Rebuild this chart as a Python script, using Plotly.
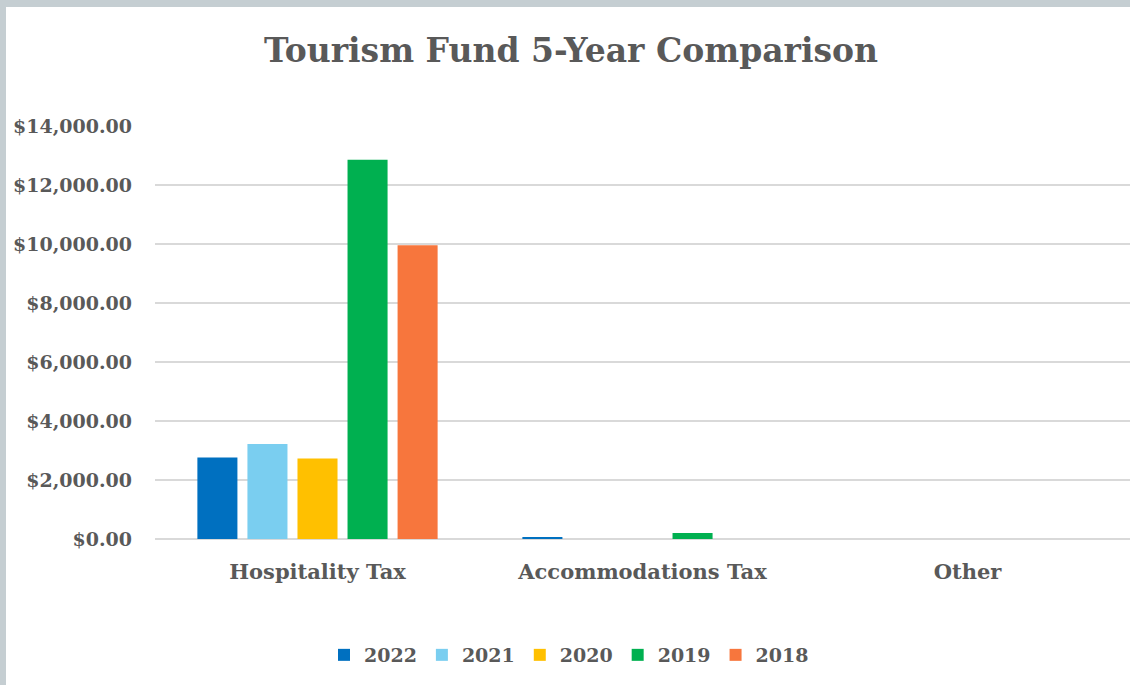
import plotly.graph_objects as go

categories = ["Hospitality Tax", "Accommodations Tax", "Other"]
years = ["2022", "2021", "2020", "2019", "2018"]
values_2022 = [2760, 60, 0]
values_2021 = [3220, 0, 0]
values_2020 = [2730, 0, 0]
values_2019 = [12860, 200, 0]
values_2018 = [9960, 0, 0]
series = [values_2022, values_2021, values_2020, values_2019, values_2018]
colors = ["#0070C0", "#7ACEF0", "#FFC000", "#00B050", "#F7763D"]
y_ticks = [0, 2000, 4000, 6000, 8000, 10000, 12000, 14000]

W, H = 1130, 685
L, R, T, B = 155, 0, 126, 146
FONT = "DejaVu Serif"
TXT = "#595959"

fig = go.Figure()
for name, vals, col in zip(years, series, colors):
    fig.add_trace(go.Bar(name=name, x=categories, y=vals, marker_color=col,
                         marker_line_width=0))

pw = W - L - R
ph = H - T - B
def px2x(px):
    return (px - L) / pw
def py2y(py):
    return (H - B - py) / ph

fig.add_shape(type="rect", xref="paper", yref="paper",
              x0=px2x(-2), x1=px2x(6), y0=py2y(H + 2), y1=py2y(-2),
              fillcolor="#C5CED2", line_width=0, layer="above")
fig.add_shape(type="rect", xref="paper", yref="paper",
              x0=px2x(-2), x1=px2x(W + 2), y0=py2y(7), y1=py2y(-2),
              fillcolor="#C5CED2", line_width=0, layer="above")

fig.update_layout(
    width=W, height=H,
    margin=dict(l=L, r=R, t=T, b=B, pad=0),
    paper_bgcolor="white", plot_bgcolor="white",
    barmode="group", bargap=0.23, bargroupgap=0.2,
    font=dict(family=FONT, color=TXT, size=19),
    title=dict(text="<b>Tourism Fund 5-Year Comparison</b>",
               font=dict(family=FONT, size=33, color=TXT),
               xref="container", x=571 / W, xanchor="center",
               yref="container", y=1 - 50 / H, yanchor="middle"),
    legend=dict(orientation="h", xref="container", yref="container",
                x=569 / W, xanchor="center", y=1 - 655 / H, yanchor="middle",
                font=dict(family=FONT, size=19, color=TXT, weight="bold"),
                itemwidth=30, traceorder="normal"),
    showlegend=True,
)
fig.update_xaxes(showgrid=False, showline=False, ticks="",
                 tickfont=dict(family=FONT, size=21, color=TXT, weight="bold"),
                 ticklabelstandoff=18)
fig.update_yaxes(range=[0, 14000], tickvals=y_ticks,
                 tickformat="$,.2f", showgrid=True, gridcolor="#D9D9D9",
                 gridwidth=1.5, zeroline=True, zerolinecolor="#D9D9D9",
                 zerolinewidth=1.5, showline=False, ticks="",
                 tickfont=dict(family=FONT, size=19, color=TXT, weight="bold"),
                 ticklabelstandoff=22)

fig.write_html("out.html", config={"displayModeBar": False},
               post_script="document.body.style.margin='0';document.body.style.padding='0';")
